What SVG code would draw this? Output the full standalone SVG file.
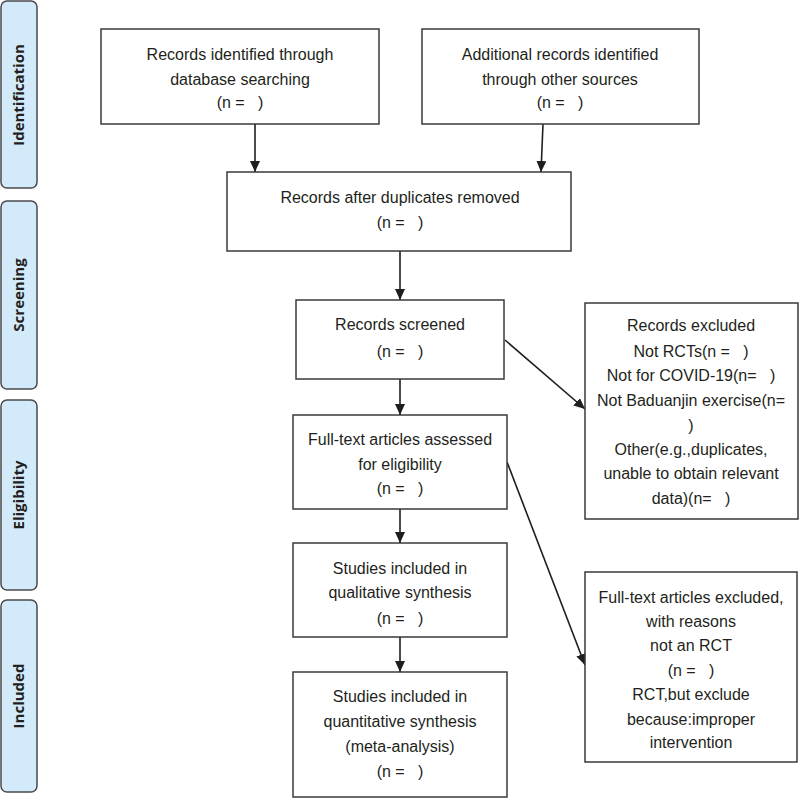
<svg xmlns="http://www.w3.org/2000/svg" width="800" height="799" viewBox="0 0 800 799" xml:space="preserve">
<style>
.bg{fill:#ffffff}
.box{fill:#ffffff;stroke:#3a3a3a;stroke-width:1.5}
.phase{fill:#d3eafb;stroke:#4a4a4a;stroke-width:1.5}
.t{font-family:"Liberation Sans",Arial,sans-serif;font-size:16px;fill:#231f20;text-anchor:middle;white-space:pre}
.pt{font-family:"Open Sans","Liberation Sans",Arial,sans-serif;font-size:15px;font-weight:bold;fill:#231f20;text-anchor:middle}
.c{stroke:#1e1e1e;stroke-width:1.6;fill:none;marker-end:url(#ah)}
</style>
<defs>
<marker id="ah" markerUnits="userSpaceOnUse" markerWidth="12" markerHeight="10" refX="11" refY="5" orient="auto">
<path d="M0,0 L11,5 L0,10 Z" fill="#1e1e1e"/>
</marker>
</defs>
<rect class="bg" x="0" y="0" width="800" height="799"/>
<g id="phase-identification">
<rect class="phase" x="1" y="1" width="36" height="187" rx="6"/>
<text class="pt" transform="translate(24,95) rotate(-90)">Identification</text>
</g>
<g id="phase-screening">
<rect class="phase" x="1" y="201" width="36" height="188" rx="6"/>
<text class="pt" transform="translate(24,295) rotate(-90)">Screening</text>
</g>
<g id="phase-eligibility">
<rect class="phase" x="1" y="400" width="36" height="190" rx="6"/>
<text class="pt" transform="translate(24,495) rotate(-90)">Eligibility</text>
</g>
<g id="phase-included">
<rect class="phase" x="1" y="600" width="36" height="192" rx="6"/>
<text class="pt" transform="translate(24,696) rotate(-90)">Included</text>
</g>
<g id="connectors">
<line class="c" x1="255" y1="124" x2="255" y2="172"/>
<line class="c" x1="543" y1="124" x2="541" y2="172"/>
<line class="c" x1="400" y1="251" x2="400" y2="300"/>
<line class="c" x1="505" y1="340" x2="585" y2="409"/>
<line class="c" x1="400" y1="379" x2="400" y2="415"/>
<line class="c" x1="507" y1="462" x2="585" y2="665"/>
<line class="c" x1="400" y1="509" x2="400" y2="543"/>
<line class="c" x1="400" y1="637" x2="400" y2="672"/>
</g>
<g id="records-database">
<rect class="box" x="101" y="29" width="278" height="95"/>
<text class="t" x="240" y="60">Records identified through</text>
<text class="t" x="240" y="85">database searching</text>
<text class="t" x="240" y="108">(n =   )</text>
</g>
<g id="records-other">
<rect class="box" x="422" y="29" width="277" height="95"/>
<text class="t" x="560" y="60">Additional records identified</text>
<text class="t" x="560" y="85">through other sources</text>
<text class="t" x="560" y="108">(n =   )</text>
</g>
<g id="records-deduplicated">
<rect class="box" x="227" y="172" width="344" height="79"/>
<text class="t" x="400" y="203">Records after duplicates removed</text>
<text class="t" x="400" y="228">(n =   )</text>
</g>
<g id="records-screened">
<rect class="box" x="296" y="300" width="208" height="79"/>
<text class="t" x="400" y="330">Records screened</text>
<text class="t" x="400" y="357">(n =   )</text>
</g>
<g id="records-excluded">
<rect class="box" x="585" y="303" width="213" height="216"/>
<text class="t" x="691" y="331">Records excluded</text>
<text class="t" x="691" y="357">Not RCTs(n =   )</text>
<text class="t" x="691" y="381">Not for COVID-19(n=   )</text>
<text class="t" x="691" y="406">Not Baduanjin exercise(n=</text>
<text class="t" x="691" y="431">)</text>
<text class="t" x="691" y="455">Other(e.g.,duplicates,</text>
<text class="t" x="691" y="479">unable to obtain relevant</text>
<text class="t" x="691" y="504">data)(n=   )</text>
</g>
<g id="fulltext-assessed">
<rect class="box" x="293" y="415" width="214" height="94"/>
<text class="t" x="400" y="445">Full-text articles assessed</text>
<text class="t" x="400" y="470">for eligibility</text>
<text class="t" x="400" y="494">(n =   )</text>
</g>
<g id="fulltext-excluded">
<rect class="box" x="585" y="572" width="212" height="190"/>
<text class="t" x="691" y="603">Full-text articles excluded,</text>
<text class="t" x="691" y="627">with reasons</text>
<text class="t" x="691" y="651">not an RCT</text>
<text class="t" x="691" y="676">(n =   )</text>
<text class="t" x="691" y="700">RCT,but exclude</text>
<text class="t" x="691" y="725">because:improper</text>
<text class="t" x="691" y="748">intervention</text>
</g>
<g id="qualitative">
<rect class="box" x="293" y="543" width="214" height="94"/>
<text class="t" x="400" y="574">Studies included in</text>
<text class="t" x="400" y="598">qualitative synthesis</text>
<text class="t" x="400" y="624">(n =   )</text>
</g>
<g id="quantitative">
<rect class="box" x="293" y="672" width="214" height="125"/>
<text class="t" x="400" y="702">Studies included in</text>
<text class="t" x="400" y="727">quantitative synthesis</text>
<text class="t" x="400" y="752">(meta-analysis)</text>
<text class="t" x="400" y="777">(n =   )</text>
</g>
</svg>
